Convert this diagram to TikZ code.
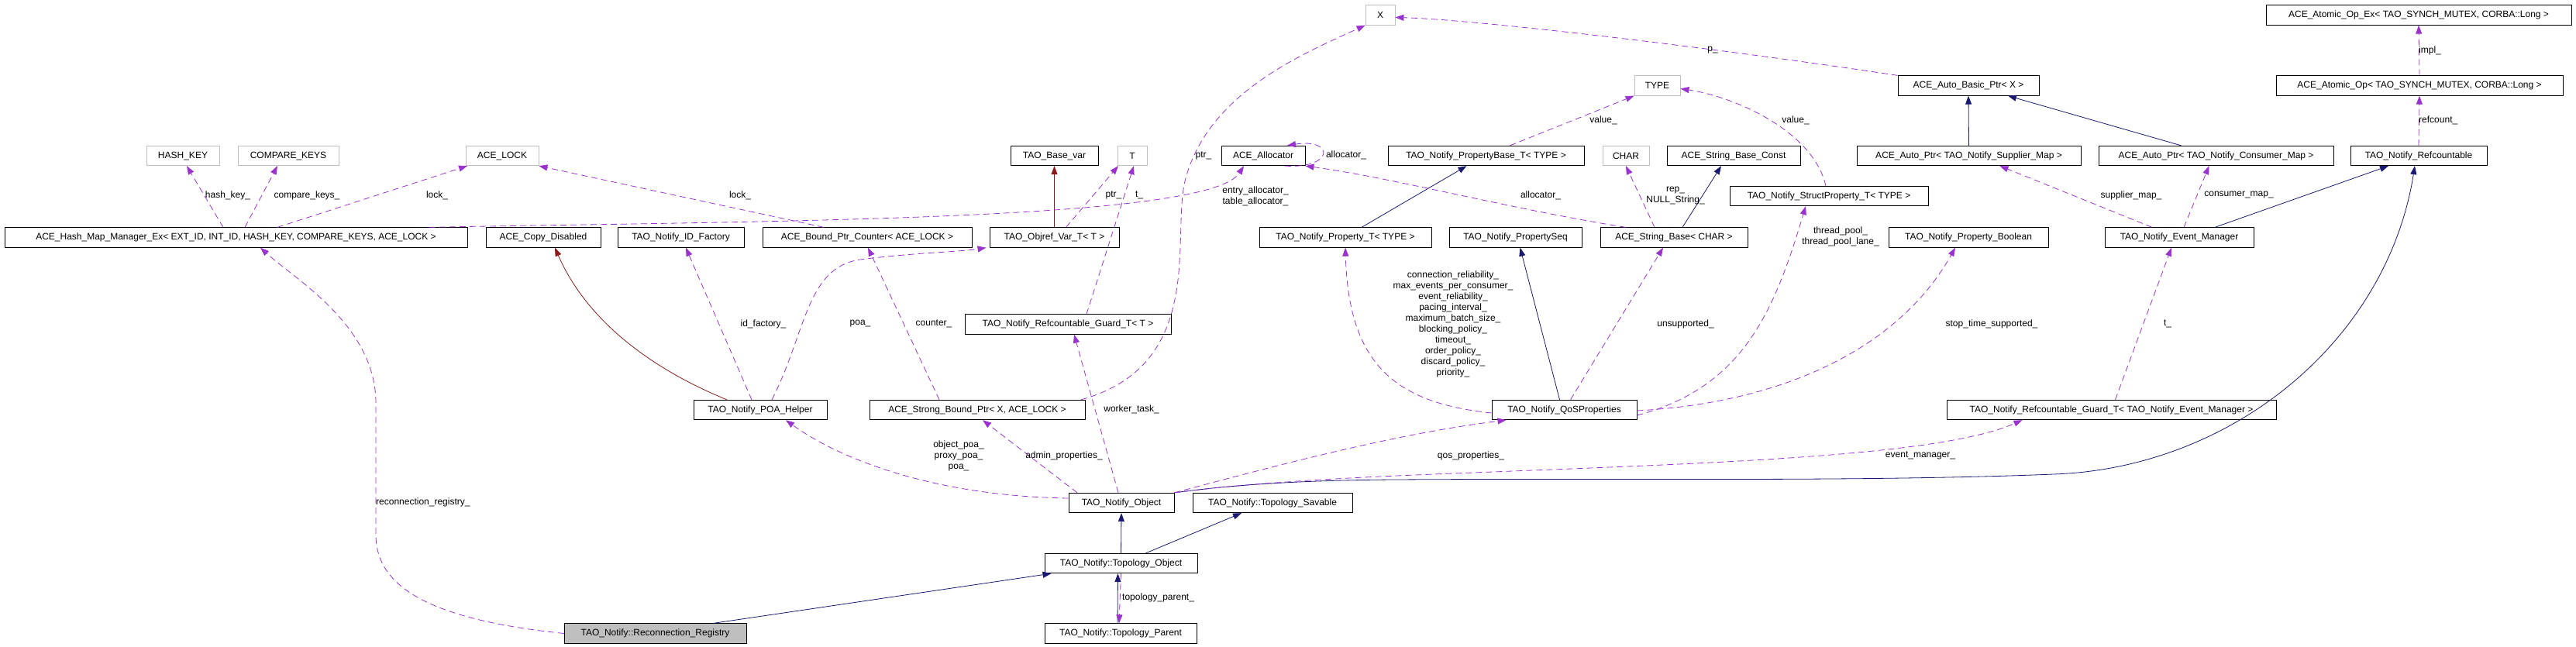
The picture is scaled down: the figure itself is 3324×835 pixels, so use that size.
\documentclass[tikz,border=0pt]{standalone}
\usepackage{fontspec}
\setmainfont{Liberation Sans}
\usetikzlibrary{arrows.meta}
\definecolor{memcol}{HTML}{9A32CD}
\definecolor{inhcol}{HTML}{191970}
\definecolor{protcol}{HTML}{8B1A1A}
\tikzset{
  cls/.style={draw=black, line width=0.8pt, minimum height=25.5pt, inner sep=0pt, font=\fontsize{12}{14}\selectfont},
  ext/.style={cls, draw=gray!50},
  self/.style={cls, fill=gray!50},
  lbl/.style={inner sep=0pt, font=\fontsize{12}{14}\selectfont, align=center},
  mem/.style={draw=memcol, dashed, dash pattern=on 8pt off 5pt, line width=0.8pt, -{Triangle[length=11pt,width=8pt]}},
  inh/.style={draw=inhcol, line width=0.8pt, -{Triangle[length=11pt,width=8pt]}},
  prot/.style={draw=protcol, line width=0.8pt, -{Triangle[length=11pt,width=8pt]}},
}
\begin{document}
\catcode`\_=12
\begin{tikzpicture}[x=1pt,y=-1pt]
\useasboundingbox (0,0) rectangle (3324,835);

% classes
\node[ext, minimum width=94] (hashkey) at (236,201) {HASH_KEY};
\node[ext, minimum width=130] (cmpkeys) at (372,201) {COMPARE_KEYS};
\node[ext, minimum width=94] (acelock) at (648,201) {ACE_LOCK};
\node[cls, minimum width=597] (hashmap) at (304.5,306.5) {ACE_Hash_Map_Manager_Ex< EXT_ID, INT_ID, HASH_KEY, COMPARE_KEYS, ACE_LOCK >};
\node[cls, minimum width=148] (copydis) at (701,306.5) {ACE_Copy_Disabled};
\node[cls, minimum width=163] (idfac) at (878.5,306.5) {TAO_Notify_ID_Factory};
\node[cls, minimum width=270] (boundctr) at (1119,306.5) {ACE_Bound_Ptr_Counter< ACE_LOCK >};
\node[cls, minimum width=172] (poahelper) at (981,529) {TAO_Notify_POA_Helper};
\node[self, minimum width=235] (recreg) at (845.5,817.5) {TAO_Notify::Reconnection_Registry};
\node[ext, minimum width=38] (X) at (1781,19.5) {X};
\node[ext, minimum width=59] (TYPE) at (2138.5,110.5) {TYPE};
\node[cls, minimum width=113] (basevar) at (1360.5,201) {TAO_Base_var};
\node[ext, minimum width=38] (T) at (1461,201) {T};
\node[cls, minimum width=108] (alloc) at (1630,201) {ACE_Allocator};
\node[cls, minimum width=253] (propbase) at (1917.5,201) {TAO_Notify_PropertyBase_T< TYPE >};
\node[ext, minimum width=60] (CHAR) at (2098,201) {CHAR};
\node[cls, minimum width=172] (strconst) at (2237,201) {ACE_String_Base_Const};
\node[cls, minimum width=167] (objref) at (1360.5,306.5) {TAO_Objref_Var_T< T >};
\node[cls, minimum width=222] (propT) at (1736,306.5) {TAO_Notify_Property_T< TYPE >};
\node[cls, minimum width=171] (propseq) at (1955.5,306.5) {TAO_Notify_PropertySeq};
\node[cls, minimum width=190] (strbase) at (2160,306.5) {ACE_String_Base< CHAR >};
\node[cls, minimum width=266] (guardT) at (1378,418.5) {TAO_Notify_Refcountable_Guard_T< T >};
\node[cls, minimum width=278] (strongbp) at (1261,529) {ACE_Strong_Bound_Ptr< X, ACE_LOCK >};
\node[cls, minimum width=187] (qos) at (2018.5,529) {TAO_Notify_QoSProperties};
\node[cls, minimum width=136] (notifyobj) at (1447,649) {TAO_Notify_Object};
\node[cls, minimum width=206] (savable) at (1642,649) {TAO_Notify::Topology_Savable};
\node[cls, minimum width=197] (topoobj) at (1446.5,727) {TAO_Notify::Topology_Object};
\node[cls, minimum width=196] (topoparent) at (1446,817.5) {TAO_Notify::Topology_Parent};
\node[cls, minimum width=394] (atomicex) at (3121,19.5) {ACE_Atomic_Op_Ex< TAO_SYNCH_MUTEX, CORBA::Long >};
\node[cls, minimum width=182] (autobasic) at (2540,110.5) {ACE_Auto_Basic_Ptr< X >};
\node[cls, minimum width=370] (atomic) at (3122,110.5) {ACE_Atomic_Op< TAO_SYNCH_MUTEX, CORBA::Long >};
\node[cls, minimum width=289] (autosup) at (2540.5,201) {ACE_Auto_Ptr< TAO_Notify_Supplier_Map >};
\node[cls, minimum width=303] (autocons) at (2859.5,201) {ACE_Auto_Ptr< TAO_Notify_Consumer_Map >};
\node[cls, minimum width=176] (refcnt) at (3121,201) {TAO_Notify_Refcountable};
\node[cls, minimum width=256] (structprop) at (2360,253) {TAO_Notify_StructProperty_T< TYPE >};
\node[cls, minimum width=206] (propbool) at (2540,306.5) {TAO_Notify_Property_Boolean};
\node[cls, minimum width=192] (evmgr) at (2812,306.5) {TAO_Notify_Event_Manager};
\node[cls, minimum width=425] (guardEM) at (2724.5,529) {TAO_Notify_Refcountable_Guard_T< TAO_Notify_Event_Manager >};

% inheritance
\draw[inh] ([xshift=75]recreg.north) -- ([xshift=-90]topoobj.south);
\draw[inh] (topoobj.north) -- (notifyobj.south);
\draw[inh] ([xshift=32]topoobj.north) -- ([xshift=-40]savable.south);
\draw[inh] ([xshift=-4]topoparent.north) -- ([xshift=-4]topoobj.south);
\draw[inh] ([xshift=-6]qos.north) -- ([xshift=6]propseq.south);
\draw[inh] ([xshift=21]propT.north) -- ([xshift=-25]propbase.south);
\draw[inh] ([xshift=11]strbase.north) -- ([xshift=-16]strconst.south);
\draw[inh] (autosup.north) -- (autobasic.south);
\draw[inh] ([xshift=-45]autocons.north) -- ([xshift=51]autobasic.south);
\draw[inh] ([xshift=46]evmgr.north) -- ([xshift=-39]refcnt.south);
\draw[inh] (notifyobj.north east) .. controls (1560,630) and (1640,620) .. (1800,619)
  .. controls (2100,617) and (2400,622) .. (2650,612)
  .. controls (2880,604) and (3080,440) .. ([xshift=-5]refcnt.south);
\draw[prot] (objref.north) -- (basevar.south);
\draw[prot] ([xshift=-43]poahelper.north) .. controls (850,480) and (760,420) .. ([xshift=15]copydis.south);

% members
\draw[mem] (recreg.west) .. controls (560,800) and (485,760) .. (485,690) -- (485,520)
  .. controls (485,420) and (380,360) .. ([xshift=31.5]hashmap.south);
\node[lbl, anchor=west] (lrecreg) at (485,648) {reconnection_registry_};
\draw[mem] ([xshift=-16.5]hashmap.north) -- ([xshift=5]hashkey.south);
\node[lbl] (lhashkey) at (294,252) {hash_key_};
\draw[mem] ([xshift=11.5]hashmap.north) -- ([xshift=-14]cmpkeys.south);
\node[lbl] (lcmpkeys) at (396,252) {compare_keys_};
\draw[mem] ([xshift=53.5]hashmap.north) -- ([xshift=-45]acelock.south);
\node[lbl] (llock) at (564,252) {lock_};
\draw[mem] ([xshift=249.5]hashmap.north) .. controls (1000,285) and (1560,285) .. ([xshift=-25]alloc.south);
\node[lbl] (lalloc) at (1620,253) {entry_allocator_\\table_allocator_};
\draw[mem] ([xshift=-56]boundctr.north) -- (acelock.south east);
\node[lbl] (llockb) at (955,252) {lock_};
\draw[mem] ([xshift=15]objref.north) -- ([xshift=-18]T.south);
\node[lbl] (lptr) at (1437,252) {ptr_};
\draw[mem] ([xshift=24]guardT.north) -- ([xshift=2]T.south);
\node[lbl] (lt) at (1470,252) {t_};
\draw[mem] ([xshift=134]strongbp.north) .. controls (1560,470) and (1510,300) .. (1530,230)
  .. controls (1560,120) and (1680,70) .. (X.south west);
\node[lbl] (lptrx) at (1553,201) {ptr_};
\draw[mem] ([xshift=-49]strongbp.north) -- ([xshift=1]boundctr.south);
\node[lbl] (lcounter) at (1205,418) {counter_};
\draw[mem] ([xshift=-11]poahelper.north) -- ([xshift=6.5]idfac.south);
\node[lbl] (lidfac) at (985,418) {id_factory_};
\draw[mem] ([xshift=15]poahelper.north) .. controls (1040,430) and (1040,345) .. (1110,335)
  .. controls (1180,326) and (1240,325) .. ([xshift=-88]objref.south);
\node[lbl] (lpoa) at (1110,418) {poa_};
\draw[mem] ([yshift=6]notifyobj.west) .. controls (1200,640) and (1080,590) .. ([xshift=33]poahelper.south);
\node[lbl] (lpoas) at (1237,588) {object_poa_\\proxy_poa_\\poa_};
\draw[mem] ([xshift=-57]notifyobj.north) -- ([xshift=7]strongbp.south);
\node[lbl] (ladmin) at (1373,588) {admin_properties_};
\draw[mem] ([xshift=-4]notifyobj.north) -- ([xshift=8]guardT.south);
\node[lbl] (lworker) at (1460,528) {worker_task_};
\draw[mem] (notifyobj.north east) .. controls (1650,600) and (1800,560) .. ([xshift=-75]qos.south);
\node[lbl] (lqos) at (1898,588) {qos_properties_};
\draw[mem] (notifyobj.north east) .. controls (1600,625) and (1700,618) .. (1850,612)
  .. controls (2200,598) and (2500,590) .. ([xshift=-115]guardEM.south);
\node[lbl] (levmgr) at (2478,588) {event_manager_};
\draw[mem] ([xshift=-4]topoobj.south) ++(4,0) -- ([xshift=-2]topoparent.north);
\node[lbl, anchor=west] (ltopo) at (1448,771) {topology_parent_};
\draw[mem] ([yshift=-4]qos.west) .. controls (1800,520) and (1740,470) .. (propT.south);
\node[lbl] (lqosp) at (1875,418) {connection_reliability_\\max_events_per_consumer_\\event_reliability_\\pacing_interval_\\maximum_batch_size_\\blocking_policy_\\timeout_\\order_policy_\\discard_policy_\\priority_};
\draw[mem] ([xshift=8]qos.north) -- ([xshift=-14]strbase.south);
\node[lbl] (lunsup) at (2175,418) {unsupported_};
\draw[mem] ([yshift=-7]qos.east) .. controls (2250,500) and (2290,400) .. ([xshift=-30]structprop.south);
\node[lbl] (lthread) at (2375,305) {thread_pool_\\thread_pool_lane_};
\draw[mem] ([yshift=-1]qos.east) .. controls (2300,520) and (2450,450) .. ([xshift=-17]propbool.south);
\node[lbl] (lstop) at (2570,418) {stop_time_supported_};
\draw[mem] ([xshift=31]propbase.north) -- (TYPE.south west);
\node[lbl] (lvalue) at (2069,155) {value_};
\draw[mem] ([xshift=-4]structprop.north) .. controls (2340,170) and (2240,125) .. ([yshift=-4]TYPE.east);
\node[lbl] (lvalues) at (2317,155) {value_};
\draw[mem] ([xshift=-62]strbase.north) .. controls (1950,270) and (1800,230) .. (alloc.south east);
\node[lbl] (lallocs) at (1988,252) {allocator_};
\draw[mem] ([xshift=28]alloc.south) .. controls (1722,218) and (1722,178) .. ([xshift=31]alloc.north);
\node[lbl] (lallocself) at (1737,200) {allocator_};
\draw[mem] ([xshift=-25]strbase.north) -- (CHAR.south);
\node[lbl] (lrep) at (2162,253) {rep_\\NULL_String_};
\draw[mem] (autobasic.north west) .. controls (2200,60) and (1900,25) .. ([yshift=-3]X.east);
\node[lbl] (lp) at (2210,65) {p_};
\draw[mem] ([xshift=-35]evmgr.north) -- ([xshift=40]autosup.south);
\node[lbl] (lsup) at (2750,252) {supplier_map_};
\draw[mem] ([xshift=6]evmgr.north) -- ([xshift=-9]autocons.south);
\node[lbl] (lcons) at (2889,252) {consumer_map_};
\draw[mem] (atomic.north) -- (atomicex.south);
\node[lbl, anchor=west] (limpl) at (3121,65) {impl_};
\draw[mem] (refcnt.north) -- (atomic.south);
\node[lbl, anchor=west] (lrefcount) at (3121,155) {refcount_};
\draw[mem] ([xshift=5]guardEM.north) -- ([xshift=-10]evmgr.south);
\node[lbl] (ltem) at (2797,418) {t_};
\end{tikzpicture}
\end{document}
